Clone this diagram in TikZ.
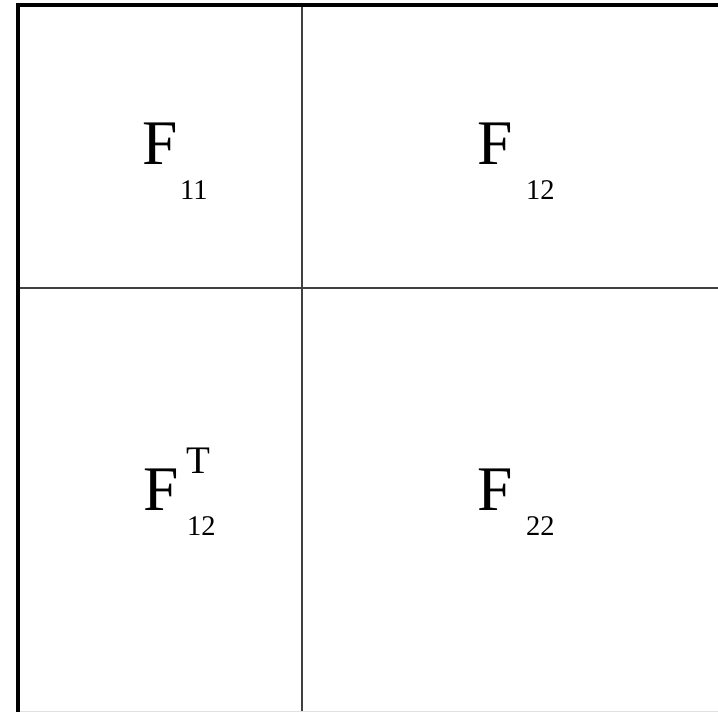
\documentclass[tikz,border=0pt]{standalone}
\usepackage{fontspec}
\setmainfont{Liberation Serif}
\tikzset{
  bigF/.style={anchor=base west, inner sep=0pt, font=\fontsize{63.5}{70}\selectfont},
  subidx/.style={anchor=base west, inner sep=0pt, font=\fontsize{28.5}{32}\selectfont},
  supidx/.style={anchor=base west, inner sep=0pt, font=\fontsize{39}{44}\selectfont},
  thickframe/.style={line width=4pt, black},
  thinrule/.style={line width=1.5pt, black!75},
  faintrule/.style={line width=1pt, black!12}
}
\begin{document}
\begin{tikzpicture}[x=1pt,y=-1pt]
\useasboundingbox (0,0) rectangle (718,712);
\fill[white] (0,0) rectangle (718,712);
% grid
\draw[thinrule] (302,4) -- (302,712);
\draw[thinrule] (18,288) -- (718,288);
\draw[faintrule] (18,711) -- (718,711);
% frame
\draw[thickframe] (18,712) -- (18,4.5) -- (718,4.5);
% labels
\node[bigF] (f11) at (142,164) {F};
\node[subidx] (s11) at (180,199) {11};
\node[bigF] (f12) at (477,164) {F};
\node[subidx] (s12) at (526,199) {12};
\node[bigF] (f21) at (143,510) {F};
\node[supidx] (t21) at (186,473) {T};
\node[subidx] (s21) at (187,535) {12};
\node[bigF] (f22) at (477,510) {F};
\node[subidx] (s22) at (526,535) {22};
\end{tikzpicture}
\end{document}
